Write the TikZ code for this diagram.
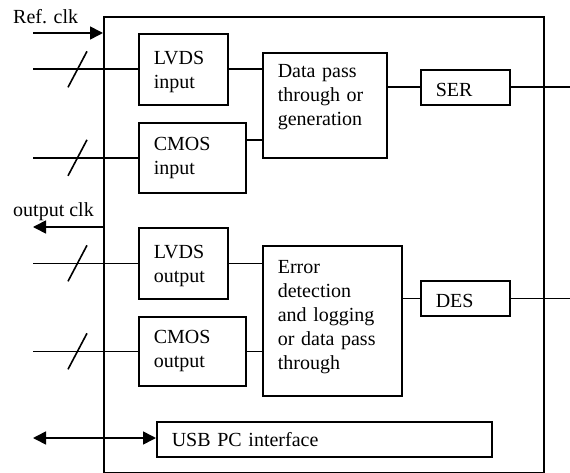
\documentclass[tikz,border=0pt]{standalone}
\usepackage{fontspec}
\setmainfont{Liberation Serif}
\usepackage{tikz}
\usetikzlibrary{arrows.meta,positioning,calc}
\tikzset{
  block/.style={draw,line width=1.6pt,anchor=north west,align=left,%
    inner xsep=15pt,inner ysep=0pt,font=\fontsize{20}{24}\selectfont},
  frame/.style={draw,line width=1.6pt,anchor=north west,inner sep=0pt},
  lbl/.style={anchor=base west,inner sep=0pt,font=\fontsize{20}{24}\selectfont},
  flow/.style={-{Triangle[length=13pt,width=13pt]},line width=1.6pt},
  bus/.style={line width=1.6pt},
}
\newcommand{\uptext}[1]{\rule[-#1]{0pt}{0pt}}
\newcommand{\downtext}[1]{\rule{0pt}{#1}}

\begin{document}
\begin{tikzpicture}[x=1pt,y=-1pt]
\useasboundingbox (0,0) rectangle (570,473);
\node[frame,minimum width=440pt,minimum height=456pt] (board) at (103,16) {};
\node[block,text width=59pt,minimum height=71pt]  (lvdsin)  at (138,33)  {\downtext{18pt}LVDS\\input};
\node[block,text width=77pt,minimum height=70pt]  (cmosin)  at (138,122) {CMOS\\input};
\node[block,text width=94pt,minimum height=105pt] (datapass) at (262,52) {Data pass\\through or\\generation\uptext{20pt}};
\node[block,text width=59pt,minimum height=35pt]  (ser)     at (420,69)  {\downtext{19pt}SER};
\node[block,text width=59pt,minimum height=71pt]  (lvdsout) at (138,227) {\downtext{18pt}LVDS\\output};
\node[block,text width=77pt,minimum height=69pt]  (cmosout) at (138,316) {CMOS\\output};
\node[block,text width=109pt,minimum height=150pt] (errdet) at (262,245) {Error\\detection\\and logging\\or data pass\\through\uptext{11pt}};
\node[block,text width=59pt,minimum height=35pt]  (des)     at (420,280) {\downtext{19pt}DES};
\node[block,text width=305pt,minimum height=35pt] (usb)     at (156,421) {USB PC interface};
\node[lbl] (reflbl) at (13,24)  {Ref. clk};
\node[lbl] (outlbl) at (13,217) {output clk};
\coordinate (ext) at (33,0);
\coordinate (rim) at (570,0);
\coordinate (refclk) at (33,33);
\coordinate (outclk) at (33,227);
\coordinate (usbend) at (33,438);
% clocks and pc link
\draw[flow] (refclk) -- (refclk -| board.west);
\draw[flow] (outclk -| board.west) -- (outclk);
\draw[flow,{Triangle[length=13pt,width=13pt]}-{Triangle[length=13pt,width=13pt]}] (usbend) -- (usbend -| usb.west);
% parallel buses
\foreach \n in {lvdsin,cmosin,lvdsout,cmosout}{
  \draw[bus] (ext |- \n.west) -- (\n.west);
  \draw[bus] ($(ext |- \n.west)+(35,18)$) -- ++(19,-36);
}
\draw[bus] (lvdsin.east) -- (lvdsin.east -| datapass.west);
\draw[bus] ([yshift=18pt]cmosin.east) -- ([yshift=18pt]cmosin.east -| datapass.west);
\draw[bus] (ser.west -| datapass.east) -- (ser.west);
\draw[bus] (ser.east) -- (ser.east -| rim);
\draw[bus] (lvdsout.east) -- (lvdsout.east -| errdet.west);
\draw[bus] (cmosout.east) -- (cmosout.east -| errdet.west);
\draw[bus] (des.west -| errdet.east) -- (des.west);
\draw[bus] (des.east) -- (des.east -| rim);
\end{tikzpicture}
\end{document}
